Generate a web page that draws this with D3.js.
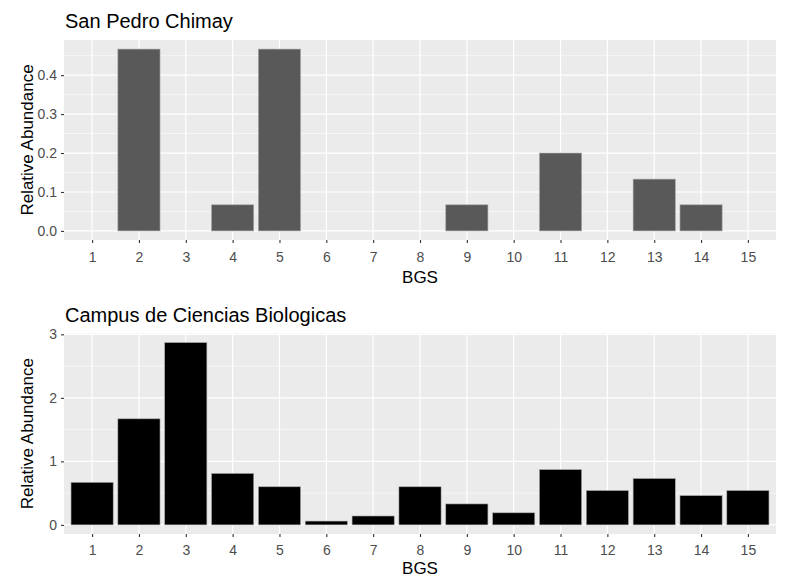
<!DOCTYPE html>
<html>
<head>
<meta charset="utf-8">
<script src="https://cdn.jsdelivr.net/npm/d3@7"></script>
<style>
  html, body { margin: 0; padding: 0; background: #fff; }
  svg { display: block; font-family: "Liberation Sans", Arial, sans-serif; }
</style>
</head>
<body>
<svg id="chart" width="789" height="579"></svg>
<script>
// BGS categories shared by both sites
const categories = [1, 2, 3, 4, 5, 6, 7, 8, 9, 10, 11, 12, 13, 14, 15];

// Relative abundance per BGS, San Pedro Chimay
const sanPedroValues = [0, 0.467, 0, 0.067, 0.467, 0, 0, 0, 0.067, 0, 0.2, 0, 0.133, 0.067, 0];

// Relative abundance per BGS, Campus de Ciencias Biologicas
const campusValues = [0.67, 1.67, 2.87, 0.81, 0.60, 0.06, 0.14, 0.60, 0.33, 0.19, 0.87, 0.54, 0.73, 0.46, 0.54];

// Y tick labels for each panel
const sanPedroTicks = [0, 0.1, 0.2, 0.3, 0.4];
const sanPedroMinor = [0.05, 0.15, 0.25, 0.35, 0.45];
const campusTicks = [0, 1, 2, 3];
const campusMinor = [0.5, 1.5, 2.5];

const svg = d3.select("#chart");

function drawPanel(cfg) {
  const { title, values, ticks, minor, fmt, fill, top, bottom, titleY, tickLabelY, axisTitleY } = cfg;
  const left = 64, right = 776;

  // discrete axis: ggplot pads 0.6 of a step on each side
  const x = d3.scaleLinear().domain([0.4, categories.length + 0.6]).range([left, right]);
  const maxV = d3.max(values);
  const pad = maxV * 0.05;
  const y = d3.scaleLinear().domain([-pad, maxV + pad]).range([bottom, top]);

  const g = svg.append("g");

  // panel background
  g.append("rect")
    .attr("x", left).attr("y", top)
    .attr("width", right - left).attr("height", bottom - top)
    .attr("fill", "#EBEBEB");

  // minor grid
  g.selectAll(".minor").data(minor.filter(v => y(v) >= top)).join("line")
    .attr("x1", left).attr("x2", right)
    .attr("y1", d => y(d)).attr("y2", d => y(d))
    .attr("stroke", "#fff").attr("stroke-width", 0.6);

  // major grid
  g.selectAll(".majorY").data(ticks).join("line")
    .attr("x1", left).attr("x2", right)
    .attr("y1", d => y(d)).attr("y2", d => y(d))
    .attr("stroke", "#fff").attr("stroke-width", 1.2);
  g.selectAll(".majorX").data(categories).join("line")
    .attr("x1", d => x(d)).attr("x2", d => x(d))
    .attr("y1", top).attr("y2", bottom)
    .attr("stroke", "#fff").attr("stroke-width", 1.2);

  // bars
  const step = x(2) - x(1);
  const bw = step * 0.9;
  g.selectAll(".bar").data(categories.map((c, i) => ({ c, v: values[i] })).filter(d => d.v > 0)).join("rect")
    .attr("x", d => x(d.c) - bw / 2)
    .attr("width", bw)
    .attr("y", d => y(d.v))
    .attr("height", d => y(0) - y(d.v))
    .attr("fill", fill)
    .attr("stroke", "#A6A6A6")
    .attr("stroke-width", 0.6);

  // x axis ticks and labels
  const xAxis = d3.axisBottom(x).tickValues(categories).tickSize(3).tickPadding(4).tickFormat(d3.format("d"));
  const xg = g.append("g").attr("transform", `translate(0,${bottom})`).call(xAxis);
  xg.select(".domain").remove();
  xg.selectAll(".tick line").attr("stroke", "#333").attr("stroke-width", 1.1);
  xg.selectAll(".tick text").attr("fill", "#4D4D4D").attr("font-size", 14)
    .attr("font-family", "Liberation Sans, Arial, sans-serif")
    .attr("dy", null).attr("y", tickLabelY - bottom);

  // y axis ticks and labels
  const yAxis = d3.axisLeft(y).tickValues(ticks).tickSize(3).tickPadding(4).tickFormat(fmt);
  const yg = g.append("g").attr("transform", `translate(${left},0)`).call(yAxis);
  yg.select(".domain").remove();
  yg.selectAll(".tick line").attr("stroke", "#333").attr("stroke-width", 1.1);
  yg.selectAll(".tick text").attr("fill", "#4D4D4D").attr("font-size", 14)
    .attr("font-family", "Liberation Sans, Arial, sans-serif");

  // title
  svg.append("text")
    .attr("x", left + 1).attr("y", titleY)
    .attr("font-size", 20).attr("fill", "#000")
    .text(title);

  // axis titles
  svg.append("text")
    .attr("x", (left + right) / 2).attr("y", axisTitleY)
    .attr("text-anchor", "middle").attr("font-size", 17).attr("fill", "#000")
    .text("BGS");
  svg.append("text")
    .attr("transform", `translate(33,${(top + bottom) / 2}) rotate(-90)`)
    .attr("text-anchor", "middle").attr("font-size", 17).attr("fill", "#000")
    .text("Relative Abundance");
}

drawPanel({
  title: "San Pedro Chimay",
  values: sanPedroValues,
  ticks: sanPedroTicks,
  minor: sanPedroMinor,
  fmt: d3.format(".1f"),
  fill: "#595959",
  top: 40, bottom: 240,
  titleY: 28, tickLabelY: 262, axisTitleY: 283
});

drawPanel({
  title: "Campus de Ciencias Biologicas",
  values: campusValues,
  ticks: campusTicks,
  minor: campusMinor,
  fmt: d3.format("d"),
  fill: "#000000",
  top: 333.5, bottom: 534,
  titleY: 322, tickLabelY: 555, axisTitleY: 574
});
</script>
</body>
</html>
